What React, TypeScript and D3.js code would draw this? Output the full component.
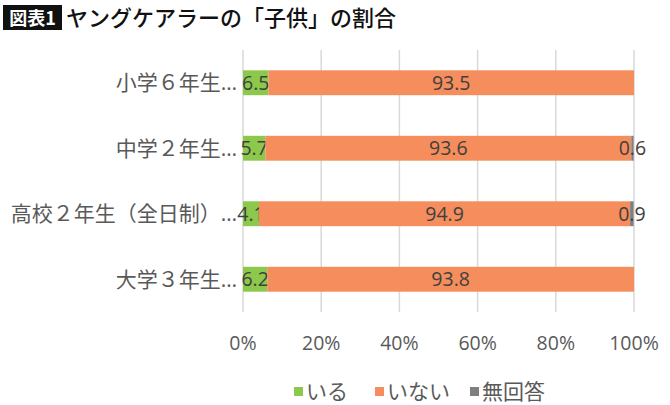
import { useEffect, useRef } from "react"
import * as d3 from "d3"

const categories = ["小学６年生…", "中学２年生…", "高校２年生（全日制）…", "大学３年生…"]
const seriesNames = ["いる", "いない", "無回答"]
const iru = [6.5, 5.7, 4.1, 6.2]
const inai = [93.5, 93.6, 94.9, 93.8]
const mukaito = [0, 0.6, 0.9, 0]
const ticks = [0, 20, 40, 60, 80, 100]
const colors = ["#8cc84b", "#f58d5c", "#7f7f7f"]

const W = 670
const H = 405
const FONT = "'Open Sans', 'Noto Sans CJK JP', sans-serif"
const JP = "'Noto Sans CJK JP', sans-serif"

export default function App() {
  const svgRef = useRef<SVGSVGElement>(null)

  useEffect(() => {
    const svg = d3.select(svgRef.current!)
    svg.selectAll("*").remove()

    const x = d3.scaleLinear().domain([0, 100]).range([243, 634])
    const y = d3.scaleBand<string>().domain(categories).range([50, 312]).paddingInner(0.62).paddingOuter(0.31)

    // title
    svg.append("rect").attr("x", 3).attr("y", 5).attr("width", 59).attr("height", 25).attr("fill", "#111")
    svg.append("text").attr("x", 32.5).attr("y", 24.5).attr("text-anchor", "middle")
      .attr("font-family", JP).attr("font-weight", 700).attr("font-size", 18).attr("fill", "#fff").text("図表1")
    svg.append("text").attr("x", 66).attr("y", 26).attr("font-family", JP).attr("font-weight", 500)
      .attr("font-size", 22).attr("fill", "#111").text("ヤングケアラーの「子供」の割合")

    // gridlines
    svg.append("g").selectAll("line").data(ticks).join("line")
      .attr("x1", (d) => x(d)).attr("x2", (d) => x(d)).attr("y1", 50).attr("y2", 312)
      .attr("stroke", "#d9d9d9").attr("stroke-width", 1.5)

    svg.append("g").selectAll("text").data(ticks).join("text")
      .attr("x", (d) => x(d)).attr("y", 350).attr("text-anchor", "middle")
      .attr("font-family", FONT).attr("font-size", 19.5).attr("fill", "#595959")
      .text((d) => `${d}%`)

    const rows = categories.map((c, i) => ({ cat: c, vals: [iru[i], inai[i], mukaito[i]] }))
    rows.forEach((r) => {
      let acc = 0
      r.vals.forEach((v, j) => {
        const x0 = acc
        acc += v
        if (v <= 0) return
        svg.append("rect").attr("x", x(x0)).attr("y", y(r.cat)!).attr("width", x(acc) - x(x0))
          .attr("height", y.bandwidth()).attr("fill", colors[j])
        svg.append("text").attr("x", (x(x0) + x(acc)) / 2).attr("y", y(r.cat)! + y.bandwidth() / 2 + 7)
          .attr("text-anchor", "middle").attr("font-family", FONT).attr("font-size", 19.5)
          .attr("fill", "#404040").text(v.toFixed(1))
      })
      svg.append("text").attr("x", 237).attr("y", y(r.cat)! + y.bandwidth() / 2 + 7.5)
        .attr("text-anchor", "end").attr("font-family", FONT).attr("font-size", 21)
        .attr("fill", "#595959").text(r.cat)
    })

    // legend
    const legendX = [294, 375, 470]
    seriesNames.forEach((n, i) => {
      svg.append("rect").attr("x", legendX[i]).attr("y", 387).attr("width", 9).attr("height", 9).attr("fill", colors[i])
      svg.append("text").attr("x", legendX[i] + 12).attr("y", 399).attr("font-family", JP)
        .attr("font-size", 21).attr("fill", "#595959").text(n)
    })
  }, [])

  return (
    <svg ref={svgRef} width={W} height={H}
      style={{ position: "absolute", left: 0, top: 0, background: "#fff" }} />
  )
}
